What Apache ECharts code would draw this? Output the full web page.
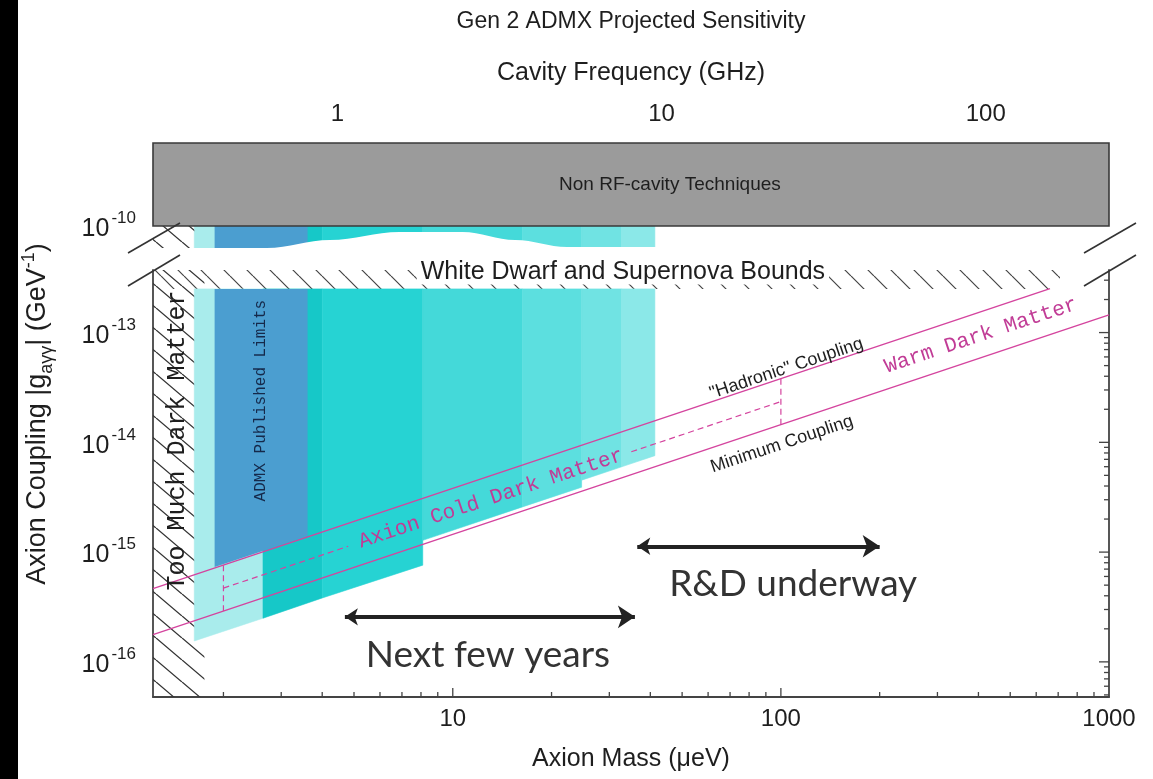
<!DOCTYPE html>
<html><head><meta charset="utf-8">
<script src="https://cdn.jsdelivr.net/npm/echarts@6/dist/echarts.min.js"></script>
<style>html,body{margin:0;padding:0;background:#fff}#c{width:1153px;height:779px}</style>
</head><body><div id="c"></div>
<script>
// ---------------- data ----------------
const massRange = [1.22, 1000];                 // axion mass, micro-eV
const freqRange = [0.27, 240];                  // cavity frequency, GHz
const couplingRangeLower = [4.786e-17, 3.715e-13];
const couplingRangeUpper = [5.012e-11, 7.244e-10];

const massTickLabels = [10, 100, 1000];
const freqTickLabels = [1, 10, 100];
const couplingTickLabels = [1e-16, 1e-15, 1e-14, 1e-13, 1e-10];

const nonRFBound = 1e-10;          // "Non RF-cavity Techniques" region above
const whiteDwarfBound = 2.5e-13;   // White Dwarf and Supernova bound
const tooMuchDMMass = 1.75;        // hatched region below this mass (lower panel)
const tooMuchDMMassUpper = 1.63;   // hatched region below this mass (upper panel)
const wdHatchEndMass = 709;
const upperBandFloor = 5.4e-11;

// projected-sensitivity bands (mass edges and sensitivity floor at each edge)
const bandMassLo  = [1.63, 2.64, 4.0, 8.1, 16.3, 24.7, 32.7];
const bandMassHi  = [2.64, 4.0, 8.1, 16.3, 24.7, 32.7, 41.3];
const bandFloorLo = [1.55e-16, 2.5e-16, 3.82e-16, 1.28e-15, 2.58e-15, 4.52e-15, 5.98e-15];
const bandFloorHi = [2.5e-16, 3.82e-16, 7.6e-16, 2.58e-15, 3.9e-15, 5.98e-15, 7.56e-15];

// ADMX published limits
const admxMass  = [1.88, 3.61];
const admxFloor = [7.3e-16, 1.4e-15];

// model lines (straight in log-log: end points)
const hadronicMass = [1.22, 661];   const hadronicG = [4.64e-16, 2.51e-13];
const minimumMass  = [1.22, 1000];  const minimumG  = [1.77e-16, 1.45e-13];
const cdmMassA = [2, 4.8];          const cdmGA = [4.7e-16, 1.13e-15];
const cdmMassB = [35, 100];         const cdmGB = [8.2e-15, 2.35e-14];
const cdmEdgeMass = [2, 100];
const cdmEdgeTop = [7.6e-16, 3.8e-14];
const cdmEdgeBottom = [2.9e-16, 1.45e-14];

// axis break (white wave) lower edge of upper-panel bands
const breakMass = [1.22, 2.71, 4.22, 6.89, 10.7, 15.5, 22.3, 1000];
const breakG    = [5.92e-11, 5.92e-11, 7.17e-11, 8.67e-11, 8.67e-11, 7.17e-11, 6.07e-11, 6.07e-11];

// arrows
const rdArrowMass = [36.5, 200];   const rdArrowG = 1.13e-15;
const nextArrowMass = [4.69, 35.9]; const nextArrowG = 2.57e-16;

// ---------------- styles ----------------
const bandColors = ['#a9ecec', '#16c8c8', '#26d3d3', '#44d9d9', '#5cdfdf', '#70e3e3', '#8be8e8'];
const admxColor = '#4b9ed0';
const MAGENTA = '#d4449e';
const FONT = '"Liberation Sans", Arial, Helvetica, sans-serif';
const MONO = '"Liberation Mono", "Courier New", monospace';
const INK = '#1e1e1e';
const AXIS = '#444';

function isDecade(v) { const l = Math.log10(v); return Math.abs(l - Math.round(l)) < 1e-6; }
function expLabel(v) { if (!isDecade(v)) return ''; return '{b|10}{s|' + Math.round(Math.log10(v)) + '}'; }
function plainLabel(v) { if (!isDecade(v)) return ''; return String(Math.round(v)); }
const supRich = {
  b: { fontFamily: FONT, fontSize: 25, color: INK, verticalAlign: 'bottom', lineHeight: 32 },
  s: { fontFamily: FONT, fontSize: 17, color: INK, verticalAlign: 'top', lineHeight: 32, padding: [0, 0, 0, 2] }
};

function hatchCanvas(w, h, color, lw) {
  const c = document.createElement('canvas'); c.width = w; c.height = h;
  const ctx = c.getContext('2d'); ctx.strokeStyle = color; ctx.lineWidth = lw;
  ctx.beginPath();
  for (let k = -1; k <= 1; k++) { ctx.moveTo(k * w, 0); ctx.lineTo(k * w + w, h); }
  ctx.stroke(); return c;
}
const dmHatch = { image: hatchCanvas(26, 22, '#333', 1.3), repeat: 'repeat' };
const wdHatch = { image: hatchCanvas(23, 23, '#444', 1.2), repeat: 'repeat' };

function rectPoly(api, m0, m1, g0, g1) {
  return [api.coord([m0, g1]), api.coord([m1, g1]), api.coord([m1, g0]), api.coord([m0, g0])];
}

const bandData = bandMassLo.map((m, i) => [m, bandFloorLo[i], i]);

const series = [
  // ----- upper panel -----
  { type: 'custom', xAxisIndex: 0, yAxisIndex: 0, z: 1, silent: true, encode: { x: 0, y: 1 },
    data: bandData,
    renderItem: (p, api) => { const i = api.value(2);
      return { type: 'polygon', shape: { points: rectPoly(api, bandMassLo[i], bandMassHi[i], upperBandFloor, nonRFBound) },
        style: { fill: bandColors[i], stroke: bandColors[i], lineWidth: 0.6 } }; } },
  { type: 'custom', xAxisIndex: 0, yAxisIndex: 0, z: 1, silent: true, encode: { x: 0, y: 1 },
    data: [[admxMass[0], nonRFBound]],
    renderItem: (p, api) => ({ type: 'polygon', shape: { points: rectPoly(api, admxMass[0], admxMass[1], upperBandFloor, nonRFBound) },
      style: { fill: admxColor } }) },
  { type: 'custom', xAxisIndex: 0, yAxisIndex: 0, z: 1, silent: true, encode: { x: 0, y: 1 },
    data: [[massRange[0], nonRFBound]],
    renderItem: (p, api) => ({ type: 'polygon', shape: { points: rectPoly(api, massRange[0], tooMuchDMMassUpper, upperBandFloor, nonRFBound) },
      style: { fill: dmHatch } }) },
  { type: 'line', xAxisIndex: 0, yAxisIndex: 0, z: 2, silent: true, symbol: 'none',
    smooth: 0.35, smoothMonotone: 'x',
    data: breakMass.map((m, i) => [m, breakG[i]]),
    lineStyle: { width: 0, opacity: 0 },
    areaStyle: { color: '#ffffff', opacity: 1, origin: 'start' } },
  { type: 'custom', xAxisIndex: 0, yAxisIndex: 0, z: 3, silent: true, encode: { x: 0, y: 1 },
    data: [[massRange[0], nonRFBound]],
    renderItem: (p, api) => ({ type: 'polygon', shape: { points: rectPoly(api, massRange[0], massRange[1], nonRFBound, couplingRangeUpper[1]) },
      style: { fill: '#9b9b9b', stroke: '#3a3a3a', lineWidth: 1.6 } }) },

  // ----- lower panel -----
  { type: 'custom', xAxisIndex: 1, yAxisIndex: 1, z: 1, silent: true, encode: { x: 0, y: 1 },
    data: [[massRange[0], couplingRangeLower[0]]],
    renderItem: (p, api) => ({ type: 'polygon', shape: { points: rectPoly(api, massRange[0], tooMuchDMMass, couplingRangeLower[0], couplingRangeLower[1]) },
      style: { fill: dmHatch } }) },
  { type: 'custom', xAxisIndex: 1, yAxisIndex: 1, z: 1, silent: true, encode: { x: 0, y: 1 },
    data: [[massRange[0], whiteDwarfBound]],
    renderItem: (p, api) => ({ type: 'polygon', shape: { points: rectPoly(api, massRange[0], wdHatchEndMass, whiteDwarfBound, couplingRangeLower[1]) },
      style: { fill: wdHatch } }) },
  { type: 'custom', xAxisIndex: 1, yAxisIndex: 1, z: 1, silent: true, encode: { x: 0, y: 1 },
    data: bandData,
    renderItem: (p, api) => { const i = api.value(2);
      const pts = [api.coord([bandMassLo[i], whiteDwarfBound]), api.coord([bandMassHi[i], whiteDwarfBound]),
                   api.coord([bandMassHi[i], bandFloorHi[i]]), api.coord([bandMassLo[i], bandFloorLo[i]])];
      return { type: 'polygon', shape: { points: pts }, style: { fill: bandColors[i], stroke: bandColors[i], lineWidth: 0.6 } }; } },
  { type: 'custom', xAxisIndex: 1, yAxisIndex: 1, z: 1, silent: true, encode: { x: 0, y: 1 },
    data: [[admxMass[0], admxFloor[0]]],
    renderItem: (p, api) => ({ type: 'polygon', shape: { points: [
      api.coord([admxMass[0], whiteDwarfBound]), api.coord([admxMass[1], whiteDwarfBound]),
      api.coord([admxMass[1], admxFloor[1]]), api.coord([admxMass[0], admxFloor[0]])] },
      style: { fill: admxColor } }) },

  // model lines
  { type: 'line', xAxisIndex: 1, yAxisIndex: 1, z: 3, silent: true, symbol: 'none',
    data: hadronicMass.map((m, i) => [m, hadronicG[i]]), lineStyle: { color: MAGENTA, width: 1.4 } },
  { type: 'line', xAxisIndex: 1, yAxisIndex: 1, z: 3, silent: true, symbol: 'none',
    data: minimumMass.map((m, i) => [m, minimumG[i]]), lineStyle: { color: MAGENTA, width: 1.4 } },
  { type: 'line', xAxisIndex: 1, yAxisIndex: 1, z: 3, silent: true, symbol: 'none',
    data: cdmMassA.map((m, i) => [m, cdmGA[i]]), lineStyle: { color: MAGENTA, width: 1.2, type: [6, 4] } },
  { type: 'line', xAxisIndex: 1, yAxisIndex: 1, z: 3, silent: true, symbol: 'none',
    data: cdmMassB.map((m, i) => [m, cdmGB[i]]), lineStyle: { color: MAGENTA, width: 1.2, type: [6, 4] } },
  ...cdmEdgeMass.map((m, i) => ({ type: 'line', xAxisIndex: 1, yAxisIndex: 1, z: 3, silent: true, symbol: 'none',
    data: [[m, cdmEdgeTop[i]], [m, cdmEdgeBottom[i]]], lineStyle: { color: MAGENTA, width: 1.2, type: [6, 4] } })),

  // arrows
  { type: 'lines', coordinateSystem: 'cartesian2d', xAxisIndex: 1, yAxisIndex: 1, z: 4, silent: true,
    symbol: ['arrow', 'arrow'], symbolSize: [13, 17],
    lineStyle: { color: '#222', width: 4, opacity: 1 },
    data: [ { coords: [[rdArrowMass[0], rdArrowG], [rdArrowMass[1], rdArrowG]] },
            { coords: [[nextArrowMass[0], nextArrowG], [nextArrowMass[1], nextArrowG]] } ] },

  // axis minor/major ticks (inward)
  { type: 'custom', xAxisIndex: 1, yAxisIndex: 1, z: 5, silent: true, encode: { x: 0, y: 1 },
    data: [[massRange[0], couplingRangeLower[0]]],
    renderItem: (p, api) => {
      const ch = [];
      const yb = api.coord([massRange[0], couplingRangeLower[0]])[1];
      const xr = api.coord([massRange[1], couplingRangeLower[0]])[0];
      for (let d = 1; d <= 100; d *= 10) for (let k = 1; k <= 9; k++) {
        const m = k * d; if (m <= massRange[0] || m >= massRange[1]) continue;
        const x = api.coord([m, couplingRangeLower[0]])[0]; const L = k === 1 ? 9 : 5;
        ch.push({ type: 'line', shape: { x1: x, y1: yb, x2: x, y2: yb - L }, style: { stroke: AXIS, lineWidth: 1.3 } });
      }
      for (let e = -17; e <= -13; e++) for (let k = 1; k <= 9; k++) {
        const g = k * Math.pow(10, e); if (g <= couplingRangeLower[0] || g >= couplingRangeLower[1]) continue;
        const y = api.coord([massRange[1], g])[1]; const L = k === 1 ? 10 : 5;
        ch.push({ type: 'line', shape: { x1: xr, y1: y, x2: xr - L, y2: y }, style: { stroke: AXIS, lineWidth: 1.3 } });
      }
      return { type: 'group', children: ch };
    } }
];

const chart = echarts.init(document.getElementById('c'), null, { renderer: 'canvas' });
const labelFont = { fontFamily: FONT, fontSize: 24, color: INK };
chart.setOption({
  animation: false,
  backgroundColor: '#ffffff',
  grid: [
    { left: 153, right: 44, top: 143, height: 112 },
    { left: 153, right: 44, top: 270, bottom: 82 }
  ],
  xAxis: [
    { gridIndex: 0, type: 'log', min: massRange[0], max: massRange[1], show: false },
    { gridIndex: 1, type: 'log', min: massRange[0], max: massRange[1], position: 'bottom',
      axisLine: { show: true, lineStyle: { color: AXIS, width: 1.8 } }, axisTick: { show: false }, splitLine: { show: false },
      axisLabel: Object.assign({ formatter: plainLabel, margin: 10 }, labelFont),
      name: 'Axion Mass (μeV)', nameLocation: 'middle', nameGap: 50,
      nameTextStyle: { fontFamily: FONT, fontSize: 25, color: INK } },
    { gridIndex: 0, type: 'log', min: freqRange[0], max: freqRange[1], position: 'top',
      axisLine: { show: false }, axisTick: { show: false }, splitLine: { show: false },
      axisLabel: Object.assign({ formatter: plainLabel, margin: 17 }, labelFont),
      name: 'Cavity Frequency (GHz)', nameLocation: 'middle', nameGap: 57,
      nameTextStyle: { fontFamily: FONT, fontSize: 25, color: INK } }
  ],
  yAxis: [
    { gridIndex: 0, type: 'log', min: couplingRangeUpper[0], max: couplingRangeUpper[1],
      axisLine: { show: false }, axisTick: { show: false }, splitLine: { show: false },
      axisLabel: { formatter: expLabel, rich: supRich, margin: 17 } },
    { gridIndex: 1, type: 'log', min: couplingRangeLower[0], max: couplingRangeLower[1],
      axisLine: { show: true, lineStyle: { color: AXIS, width: 1.8 } }, axisTick: { show: false }, splitLine: { show: false },
      axisLabel: { formatter: expLabel, rich: supRich, margin: 17 } },
    { gridIndex: 1, type: 'log', position: 'right', min: couplingRangeLower[0], max: couplingRangeLower[1],
      axisLine: { show: true, lineStyle: { color: AXIS, width: 1.8 } }, axisTick: { show: false },
      splitLine: { show: false }, axisLabel: { show: false } }
  ],
  series: series
});

// ---------------- annotations anchored to data coordinates ----------------
function P(panel, m, g) { return chart.convertToPixel({ xAxisIndex: panel === 0 ? 0 : 1, yAxisIndex: panel === 0 ? 0 : 1 }, [m, g]); }
function txt(p, text, opt) {
  return Object.assign({ type: 'text', x: p[0], y: p[1], silent: true, z: 100,
    style: Object.assign({ text: text, align: 'center', verticalAlign: 'middle', fill: INK, fontFamily: FONT, fontSize: 18 }, opt.style || {}) },
    opt.el || {});
}
const tilt = Math.atan(1 / 3);
const plotMidX = P(1, Math.sqrt(massRange[0] * massRange[1]), whiteDwarfBound)[0];
const boxMidY = P(0, massRange[0], Math.sqrt(nonRFBound * couplingRangeUpper[1]))[1];
const wdMid = P(1, 33, whiteDwarfBound);
const L0 = P(1, massRange[0], couplingRangeLower[1]);
const R0 = P(1, massRange[1], couplingRangeLower[1]);
const boxBot = P(0, massRange[0], nonRFBound)[1];
const lowTop = L0[1];
function breakPair(x) {
  return [
    { type: 'line', silent: true, z: 101, shape: { x1: x - 25, y1: lowTop - 17, x2: x + 27, y2: boxBot - 3 }, style: { stroke: '#333', lineWidth: 1.6 } },
    { type: 'line', silent: true, z: 101, shape: { x1: x - 25, y1: lowTop + 16, x2: x + 27, y2: lowTop - 15 }, style: { stroke: '#333', lineWidth: 1.6 } }
  ];
}
const graphic = [
  { type: 'rect', silent: true, z: 120, shape: { x: 0, y: 0, width: 18, height: 779 }, style: { fill: '#000' } },
  txt([plotMidX, 22], 'Gen 2 ADMX Projected Sensitivity', { style: { fontSize: 23 } }),
  txt([38, 414], '{n|Axion Coupling |g}{sub|aγγ}{n|| (GeV}{sup|-1}{n|)}', { el: { rotation: Math.PI / 2 },
    style: { rich: {
      n: { fontFamily: FONT, fontSize: 27, color: INK, lineHeight: 36, verticalAlign: 'middle' },
      sub: { fontFamily: FONT, fontSize: 18, color: INK, lineHeight: 36, verticalAlign: 'bottom' },
      sup: { fontFamily: FONT, fontSize: 18, color: INK, lineHeight: 36, verticalAlign: 'top' } } } }),
  txt([P(0, 45.9, nonRFBound)[0], boxMidY], 'Non RF-cavity Techniques', { style: { fontSize: 19 } }),
  txt([wdMid[0], wdMid[1] - 17], 'White Dwarf and Supernova Bounds', { style: { fontSize: 25, backgroundColor: '#fff', padding: [0, 4, 0, 4] } }),
  txt(P(1, 1.45, 1.04e-14), 'Too Much Dark Matter', { el: { rotation: Math.PI / 2 }, style: { fontFamily: MONO, fontSize: 25 } }),
  txt(P(1, 2.6, 2.4e-14), 'ADMX Published Limits', { el: { rotation: Math.PI / 2 }, style: { fontFamily: MONO, fontSize: 16, fill: '#15294a' } }),
  txt(P(1, 13.06, 3.07e-15), 'Axion Cold Dark Matter', { el: { rotation: tilt }, style: { fontFamily: MONO, fontSize: 21, fill: '#c13c96' } }),
  txt(P(1, 407, 9.4e-14), 'Warm Dark Matter', { el: { rotation: tilt }, style: { fontFamily: MONO, fontSize: 21, fill: '#c13c96' } }),
  txt(P(1, 104, 4.7e-14), '"Hadronic" Coupling', { el: { rotation: tilt }, style: { fontSize: 18 } }),
  txt(P(1, 100.7, 9.6e-15), 'Minimum Coupling', { el: { rotation: tilt }, style: { fontSize: 18 } }),
  txt(P(1, 109, 5.1e-16), 'R&D underway', { style: { fontFamily: 'Lato, "Open Sans", sans-serif', fontSize: 37, fill: '#333' } }),
  txt(P(1, 12.8, 1.16e-16), 'Next few years', { style: { fontFamily: 'Lato, "Open Sans", sans-serif', fontSize: 37, fill: '#333' } }),
  ...breakPair(L0[0]),
  ...breakPair(R0[0])
];
chart.setOption({ graphic: graphic });
</script>
</body></html>
